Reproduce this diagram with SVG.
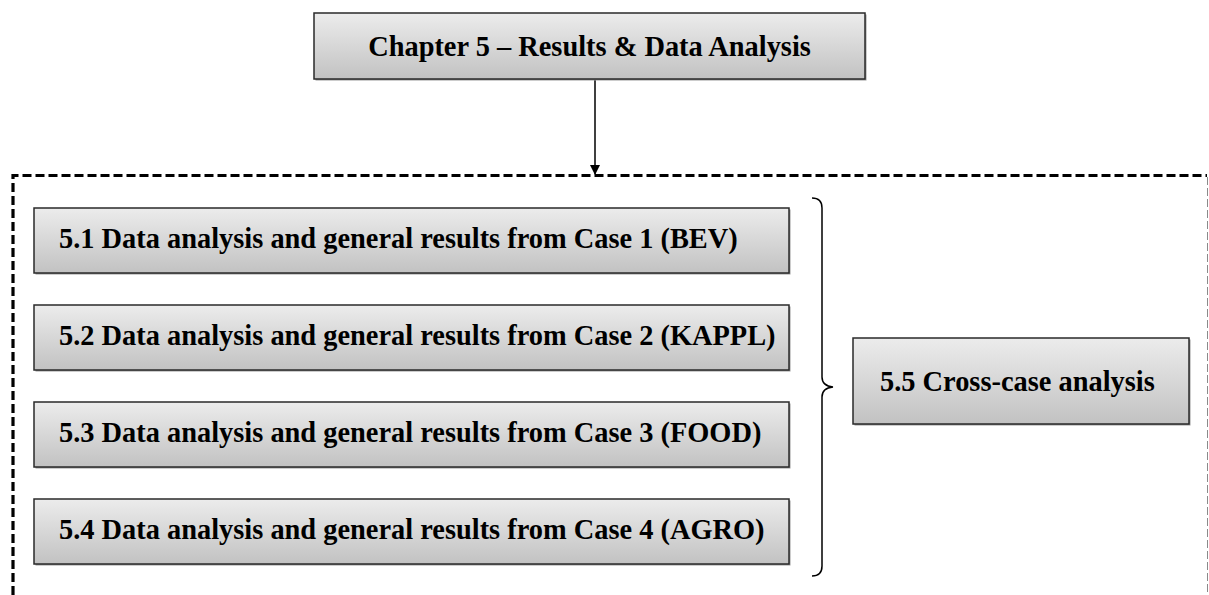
<svg xmlns="http://www.w3.org/2000/svg" width="1209" height="595" viewBox="0 0 1209 595">
<defs>
<linearGradient id="g" x1="0" y1="0" x2="0" y2="1">
<stop offset="0" stop-color="#ececec"/>
<stop offset="1" stop-color="#c2c2c2"/>
</linearGradient>
<marker id="ah" markerWidth="10" markerHeight="10" refX="9" refY="5" orient="auto" markerUnits="userSpaceOnUse">
<path d="M0,0 L10,5 L0,10 Z" fill="#000"/>
</marker>
<style>
.box{fill:url(#g);stroke:#2a2a2a;stroke-width:1.5}
.sh{fill:#9a9a9a}
.t{font-family:"Liberation Serif","Times New Roman",serif;font-weight:bold;font-size:28.4px;fill:#000}
</style>
</defs>
<rect width="1209" height="595" fill="#fff"/>
<g id="frame">
<path d="M13,595 L13,175.5 L1207,175.5" fill="none" stroke="#000" stroke-width="3.2" stroke-dasharray="9 4"/>
<path d="M1207.5,177 L1207.5,595" fill="none" stroke="#8a8a8a" stroke-width="1" stroke-dasharray="8 3"/>
</g>
<g id="connectors">
<line x1="595" y1="79" x2="595" y2="174" stroke="#000" stroke-width="1.5" marker-end="url(#ah)"/>
<path d="M812,198 Q822,198 822,208 L822,377 Q822,386 833,387 Q822,388 822,397 L822,566 Q822,576 812,576" fill="none" stroke="#000" stroke-width="1.5"/>
</g>
<g id="chapter">
<rect class="sh" x="315.5" y="14.5" width="551" height="66"/>
<rect class="box" x="314" y="13" width="551" height="66"/>
<text class="t" x="589.5" y="56" text-anchor="middle">Chapter 5 – Results &amp; Data Analysis</text>
</g>
<g id="n51">
<rect class="sh" x="35.5" y="209.5" width="755" height="65"/>
<rect class="box" x="34" y="208" width="755" height="65"/>
<text class="t" x="59" y="248">5.1 Data analysis and general results from Case 1 (BEV)</text>
</g>
<g id="n52">
<rect class="sh" x="35.5" y="306.5" width="755" height="65"/>
<rect class="box" x="34" y="305" width="755" height="65"/>
<text class="t" x="59" y="345">5.2 Data analysis and general results from Case 2 (KAPPL)</text>
</g>
<g id="n53">
<rect class="sh" x="35.5" y="403.5" width="755" height="65"/>
<rect class="box" x="34" y="402" width="755" height="65"/>
<text class="t" x="59" y="442">5.3 Data analysis and general results from Case 3 (FOOD)</text>
</g>
<g id="n54">
<rect class="sh" x="35.5" y="500.5" width="755" height="65"/>
<rect class="box" x="34" y="499" width="755" height="65"/>
<text class="t" x="59" y="539">5.4 Data analysis and general results from Case 4 (AGRO)</text>
</g>
<g id="n55">
<rect class="sh" x="854.5" y="339.5" width="336" height="86"/>
<rect class="box" x="853" y="338" width="336" height="86"/>
<text class="t" x="880" y="391">5.5 Cross-case analysis</text>
</g>
</svg>
